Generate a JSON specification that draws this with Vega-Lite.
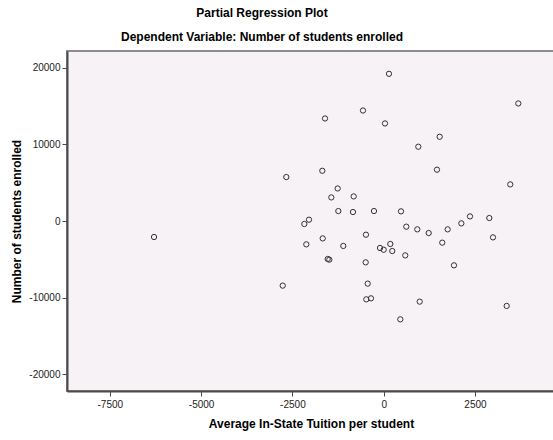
{
  "$schema": "https://vega.github.io/schema/vega-lite/v6.json",
  "width": 488,
  "height": 340,
  "autosize": {"type": "none"},
  "padding": {"left": 67, "top": 51, "right": 0, "bottom": 49},
  "background": "white",
  "title": {
    "text": "Partial Regression Plot",
    "subtitle": "Dependent Variable: Number of students enrolled",
    "anchor": "middle",
    "dx": -49,
    "offset": 7,
    "font": "Liberation Sans",
    "fontSize": 12,
    "fontWeight": "bold",
    "color": "black",
    "subtitleFont": "Liberation Sans",
    "subtitleFontSize": 12,
    "subtitleFontWeight": "bold",
    "subtitleColor": "black",
    "subtitlePadding": 12
  },
  "config": {
    "view": {"fill": "#f6f2f6", "stroke": "#8c8c8c", "strokeWidth": 2},
    "axis": {
      "font": "Liberation Sans",
      "labelFont": "Liberation Sans",
      "titleFont": "Liberation Sans",
      "labelFontSize": 10,
      "labelColor": "#222222",
      "titleFontSize": 12,
      "titleFontWeight": "bold",
      "titleColor": "black",
      "domainColor": "#4a4a4a",
      "domainWidth": 2,
      "tickColor": "#4a4a4a",
      "tickSize": 5,
      "tickWidth": 1,
      "grid": false
    }
  },
  "data": {
    "values": [
      {"x": 145, "y": 19220},
      {"x": 3686, "y": 15350},
      {"x": -1607, "y": 13390},
      {"x": -567, "y": 14430},
      {"x": 36, "y": 12740},
      {"x": 1533, "y": 11000},
      {"x": 948, "y": 9700},
      {"x": -2667, "y": 5740},
      {"x": -1681, "y": 6560},
      {"x": 1459, "y": 6700},
      {"x": 3466, "y": 4780},
      {"x": -1260, "y": 4250},
      {"x": -1434, "y": 3080},
      {"x": -822, "y": 3210},
      {"x": -1242, "y": 1300},
      {"x": -841, "y": 1170},
      {"x": -266, "y": 1300},
      {"x": 474, "y": 1260},
      {"x": -2045, "y": 170},
      {"x": -2173, "y": -390},
      {"x": 2363, "y": 600},
      {"x": 2126, "y": -310},
      {"x": 2892, "y": 390},
      {"x": 619, "y": -740},
      {"x": 920, "y": -1090},
      {"x": 1232, "y": -1570},
      {"x": 1752, "y": -1090},
      {"x": 2993, "y": -2140},
      {"x": -2119, "y": -3050},
      {"x": -1670, "y": -2270},
      {"x": -1106, "y": -3260},
      {"x": -485, "y": -1790},
      {"x": 1604, "y": -2830},
      {"x": 181, "y": -3000},
      {"x": -101, "y": -3520},
      {"x": 0, "y": -3750},
      {"x": 235, "y": -3920},
      {"x": 591, "y": -4490},
      {"x": -1533, "y": -4960},
      {"x": -1489, "y": -5050},
      {"x": -493, "y": -5400},
      {"x": 1925, "y": -5790},
      {"x": -2765, "y": -8440},
      {"x": -438, "y": -8180},
      {"x": -476, "y": -10230},
      {"x": -348, "y": -10100},
      {"x": 986, "y": -10530},
      {"x": 3368, "y": -11090},
      {"x": 455, "y": -12840},
      {"x": -6289, "y": -2090}
    ]
  },
  "mark": {"type": "point", "shape": "circle", "filled": false, "size": 28, "stroke": "#333333", "strokeWidth": 1, "opacity": 1},
  "encoding": {
    "x": {
      "field": "x",
      "type": "quantitative",
      "title": "Average In-State Tuition per student",
      "scale": {"domain": [-8672, 4691], "nice": false, "zero": false},
      "axis": {"values": [-7500, -5000, -2500, 0, 2500], "labelExpr": "datum.value + ''", "labelPadding": 3, "titlePadding": 9}
    },
    "y": {
      "field": "y",
      "type": "quantitative",
      "title": "Number of students enrolled",
      "scale": {"domain": [-22200, 22200], "nice": false, "zero": false},
      "axis": {"values": [-20000, -10000, 0, 10000, 20000], "labelExpr": "datum.value + ''", "labelPadding": 2, "titlePadding": 5}
    }
  }
}
